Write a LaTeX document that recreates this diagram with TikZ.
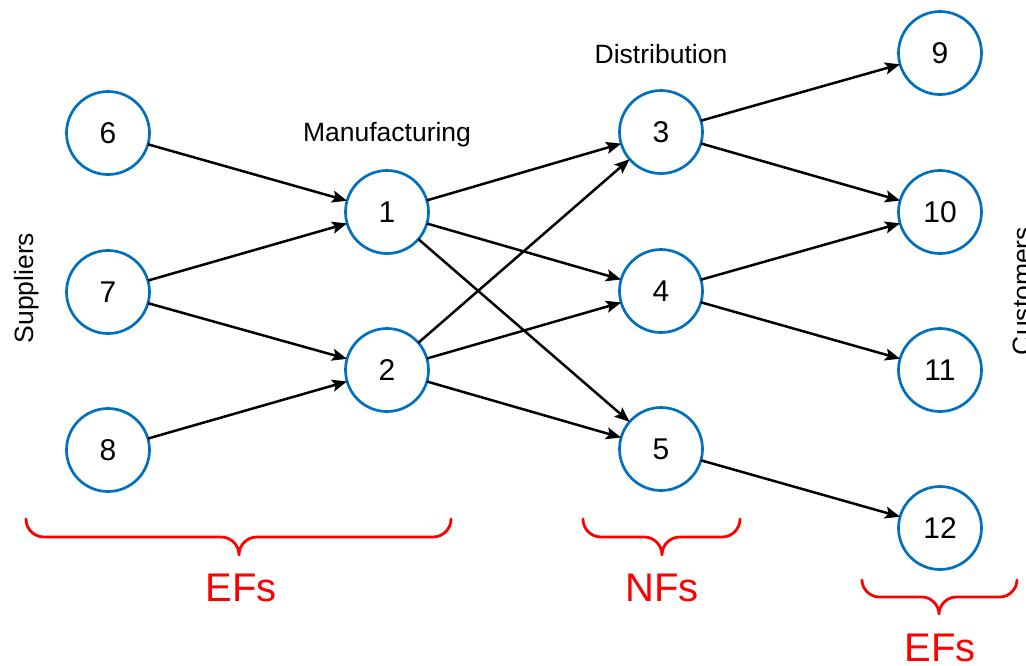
\documentclass[tikz,border=0pt]{standalone}
\usepackage{fontspec}
\setmainfont{Liberation Sans}
\usetikzlibrary{arrows.meta}
\definecolor{nodeblue}{HTML}{0070C0}
\definecolor{bracered}{HTML}{FF0000}
\tikzset{
  facility/.style={circle, draw=nodeblue, line width=2.7pt, minimum size=83pt,
    inner sep=0pt, outer sep=0pt, font=\fontsize{30}{34}\selectfont},
  flow/.style={line width=2.5pt, -{Stealth[length=15pt,width=12pt,inset=3pt]}},
  stage/.style={font=\fontsize{26.5}{30}\selectfont, inner sep=0pt, anchor=base},
  curly/.style={draw=bracered, line width=2.8pt, line cap=round, line join=round},
  tag/.style={text=bracered, font=\fontsize{40}{44}\selectfont, inner sep=0pt, anchor=base}
}
\begin{document}
\begin{tikzpicture}[x=1pt, y=-1pt]
\useasboundingbox (0,0) rectangle (1026,665);

% suppliers
\node[facility] (n6) at (108,133) {6};
\node[facility] (n7) at (108,292) {7};
\node[facility] (n8) at (108,450) {8};
% manufacturing plants
\node[facility] (n1) at (387,212) {1};
\node[facility] (n2) at (387,370) {2};
% distribution centres
\node[facility] (n3) at (661,132) {3};
\node[facility] (n4) at (661,291) {4};
\node[facility] (n5) at (661,449) {5};
% customers
\node[facility] (n9)  at (940,53)  {9};
\node[facility] (n10) at (940,212) {10};
\node[facility] (n11) at (940,370) {11};
\node[facility] (n12) at (940,528) {12};

% stage labels
\node[stage, rotate=90] (lsup) at (33.5,288) {Suppliers};
\node[stage] (lman) at (387,141) {Manufacturing};
\node[stage] (ldis) at (661,63) {Distribution};
\node[stage, rotate=90] (lcus) at (1031.5,291) {Customers};

% material flows
\draw[flow] (n6) -- (n1);
\draw[flow] (n7) -- (n1);
\draw[flow] (n7) -- (n2);
\draw[flow] (n8) -- (n2);
\draw[flow] (n1) -- (n3);
\draw[flow] (n1) -- (n4);
\draw[flow] (n1) -- (n5);
\draw[flow] (n2) -- (n3);
\draw[flow] (n2) -- (n4);
\draw[flow] (n2) -- (n5);
\draw[flow] (n3) -- (n9);
\draw[flow] (n3) -- (n10);
\draw[flow] (n4) -- (n10);
\draw[flow] (n4) -- (n11);
\draw[flow] (n5) -- (n12);

% braces
\draw[curly] (26,519) .. controls (26,529) and (34,537) .. (44,537) -- (221,537)
  .. controls (231,537) and (239,545) .. (239,555)
  .. controls (239,545) and (247,537) .. (257,537) -- (433,537)
  .. controls (443,537) and (451,529) .. (451,519);
\draw[curly] (583,519) .. controls (583,529) and (591,537) .. (601,537) -- (644,537)
  .. controls (654,537) and (662,545) .. (662,555)
  .. controls (662,545) and (670,537) .. (680,537) -- (722,537)
  .. controls (732,537) and (740,529) .. (740,519);
\draw[curly] (862,580) .. controls (862,589) and (870,597) .. (879,597) -- (922,597)
  .. controls (931,597) and (939,605) .. (939,614)
  .. controls (939,605) and (947,597) .. (956,597) -- (1000,597)
  .. controls (1009,597) and (1017,589) .. (1017,580);

\node[tag] (ef1) at (241,601) {EFs};
\node[tag] (nf)  at (662,601) {NFs};
\node[tag] (ef2) at (940,661) {EFs};
\end{tikzpicture}
\end{document}
